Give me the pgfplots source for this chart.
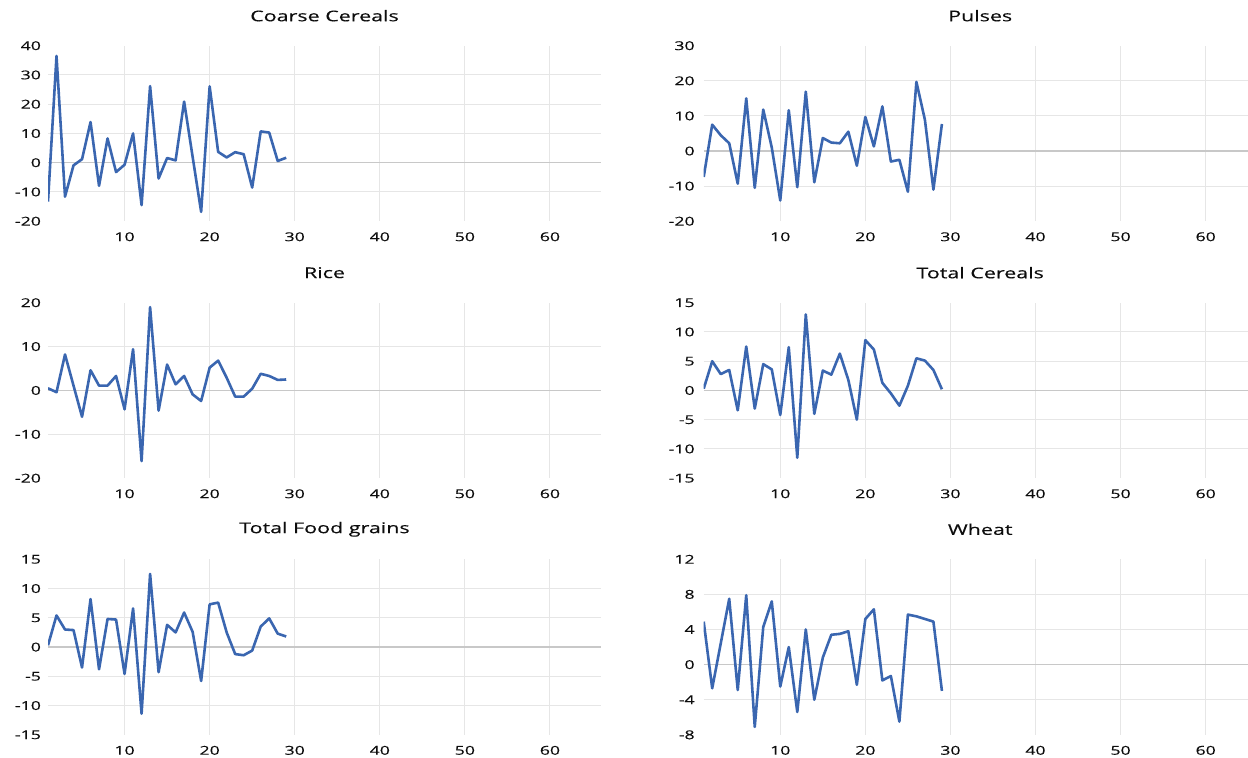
\documentclass[border=0pt]{standalone}
\usepackage{fontspec}
\setmainfont{Open Sans}
\newfontfamily\wide{Open Sans}[FakeStretch=1.45, FakeBold=0.3]
\usepackage{pgfplots}
\pgfplotsset{compat=1.18}
\definecolor{linec}{RGB}{58,102,176}
\definecolor{gridc}{RGB}{230,230,230}
\definecolor{zeroc}{RGB}{200,200,200}
\pgfplotsset{
  panel/.style={
    scale only axis, width=276.5pt, height=87.75pt,
    xmin=1, xmax=66, xtick={10,20,...,60},
    xmajorgrids, ymajorgrids=false,
    axis line style={draw=none},
    major tick length=0pt, minor tick length=0pt,
    grid style={color=gridc, line width=0.5pt},
    tick label style={font=\wide\fontsize{6.1}{7}\selectfont, text=black!95},
    xticklabel style={yshift=-2pt},
    yticklabel style={xshift=0pt},
    title style={font=\wide\fontsize{7.4}{8}\selectfont, at={(0.5,1)}, anchor=center, yshift=9pt, text=black!95},
    extra y tick labels={},
    extra y tick style={grid=major},
    anchor=north west,
    /pgf/number format/assume math mode=true,
  },
  dat/.style={linec, line width=1.3pt, line join=round, mark=none},
  zer/.style={zeroc, line width=0.65pt, forget plot},
}
\begin{document}
\begin{tikzpicture}
\useasboundingbox (0,0) rectangle (624pt,378.5pt);
% Coarse Cereals
\begin{axis}[panel, at={(24pt,355.65pt)}, title={Coarse Cereals},
  ymin=-20, ymax=40, ytick={-20,-10,0,10,20,30,40}, extra y ticks={-10,10,20,30}]
\addplot[zer] coordinates {(1,0) (66,0)};
\addplot[dat] coordinates {
(1,-13.3) (2,36.5) (3,-11.6) (4,-0.9) (5,1.2) (6,13.9) (7,-7.9) (8,8.3) (9,-3.2) (10,-0.7)
(11,10.0) (12,-14.5) (13,26.2) (14,-5.4) (15,1.6) (16,0.8) (17,20.9) (18,2.0) (19,-16.8) (20,26.1)
(21,3.7) (22,1.8) (23,3.6) (24,2.9) (25,-8.5) (26,10.7) (27,10.3) (28,0.6) (29,1.7)};
\end{axis}
% Pulses
\begin{axis}[panel, at={(351.85pt,355.65pt)}, title={Pulses}, yticklabel style={xshift=-1pt},
  ymin=-20, ymax=30, ytick={-20,-10,0,10,20,30}, extra y ticks={-10,10,20}]
\addplot[zer] coordinates {(1,0) (66,0)};
\addplot[dat] coordinates {
(1,-7.4) (2,7.5) (3,4.5) (4,2.2) (5,-9.3) (6,15.0) (7,-10.5) (8,11.8) (9,1.0) (10,-14.1)
(11,11.6) (12,-10.3) (13,16.9) (14,-8.9) (15,3.7) (16,2.4) (17,2.2) (18,5.5) (19,-4.2) (20,9.7)
(21,1.3) (22,12.7) (23,-3.0) (24,-2.5) (25,-11.6) (26,19.7) (27,8.9) (28,-11.0) (29,7.7)};
\end{axis}
% Rice
\begin{axis}[panel, at={(24pt,227.15pt)}, title={Rice},
  ymin=-20, ymax=20, ytick={-20,-10,0,10,20}, extra y ticks={-10,10}]
\addplot[zer] coordinates {(1,0) (66,0)};
\addplot[dat] coordinates {
(1,0.5) (2,-0.4) (3,8.2) (4,1.1) (5,-6.0) (6,4.6) (7,1.1) (8,1.1) (9,3.3) (10,-4.3)
(11,9.4) (12,-16.1) (13,19.0) (14,-4.6) (15,5.9) (16,1.4) (17,3.3) (18,-0.9) (19,-2.4) (20,5.2)
(21,6.8) (22,2.9) (23,-1.4) (24,-1.4) (25,0.4) (26,3.8) (27,3.3) (28,2.4) (29,2.5)};
\end{axis}
% Total Cereals
\begin{axis}[panel, at={(351.85pt,227.15pt)}, title={Total Cereals}, yticklabel style={xshift=-1pt},
  ymin=-15, ymax=15, ytick={-15,-10,...,15}, extra y ticks={-10,-5,5,10}]
\addplot[zer] coordinates {(1,0) (66,0)};
\addplot[dat] coordinates {
(1,0.3) (2,5.0) (3,2.8) (4,3.5) (5,-3.4) (6,7.5) (7,-3.1) (8,4.5) (9,3.6) (10,-4.2)
(11,7.4) (12,-11.5) (13,13.0) (14,-4.0) (15,3.4) (16,2.7) (17,6.3) (18,1.8) (19,-5.0) (20,8.6)
(21,7.0) (22,1.3) (23,-0.5) (24,-2.6) (25,0.8) (26,5.5) (27,5.1) (28,3.5) (29,0.2)};
\end{axis}
% Total Food grains
\begin{axis}[panel, at={(24pt,98.85pt)}, title={Total Food grains},
  ymin=-15, ymax=15, ytick={-15,-10,...,15}, extra y ticks={-10,-5,5,10}]
\addplot[zer] coordinates {(1,0) (66,0)};
\addplot[dat] coordinates {
(1,0.3) (2,5.4) (3,3.0) (4,2.9) (5,-3.5) (6,8.2) (7,-3.8) (8,4.8) (9,4.7) (10,-4.6)
(11,6.6) (12,-11.4) (13,12.5) (14,-4.3) (15,3.8) (16,2.5) (17,5.9) (18,2.6) (19,-5.8) (20,7.3)
(21,7.6) (22,2.5) (23,-1.2) (24,-1.4) (25,-0.6) (26,3.5) (27,4.9) (28,2.3) (29,1.8)};
\end{axis}
% Wheat
\begin{axis}[panel, at={(351.85pt,98.85pt)}, title={Wheat}, yticklabel style={xshift=-1pt},
  ymin=-8, ymax=12, ytick={-8,-4,0,4,8,12}, extra y ticks={-4,4,8}]
\addplot[zer] coordinates {(1,0) (66,0)};
\addplot[dat] coordinates {
(1,4.9) (2,-2.7) (3,2.4) (4,7.5) (5,-2.9) (6,7.9) (7,-7.1) (8,4.3) (9,7.2) (10,-2.5)
(11,2.0) (12,-5.4) (13,4.0) (14,-4.0) (15,0.8) (16,3.4) (17,3.5) (18,3.8) (19,-2.3) (20,5.2)
(21,6.3) (22,-1.8) (23,-1.3) (24,-6.5) (25,5.7) (26,5.5) (27,5.2) (28,4.9) (29,-3.0)};
\end{axis}
\end{tikzpicture}
\end{document}
